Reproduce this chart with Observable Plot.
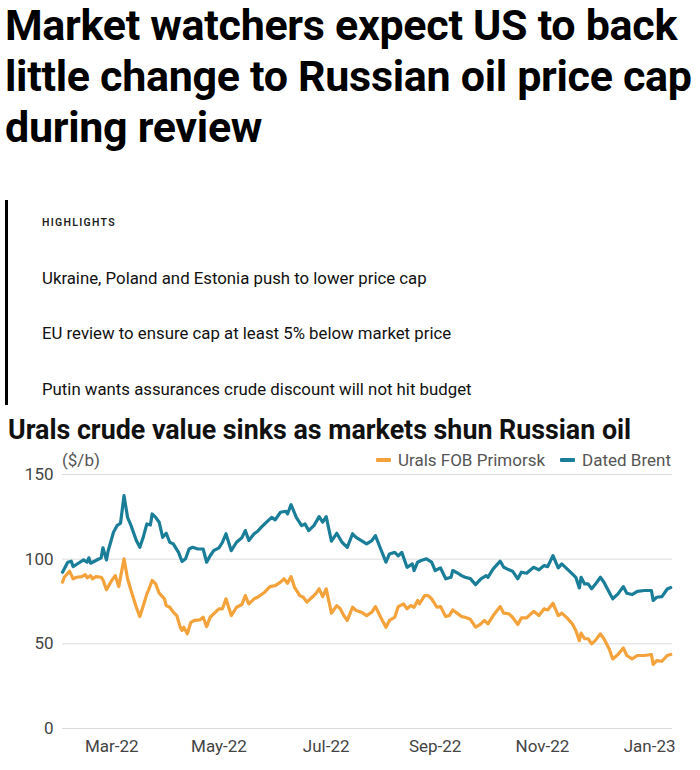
<!DOCTYPE html>
<html>
<head>
<meta charset="utf-8">
<script src="https://cdn.jsdelivr.net/npm/d3@7"></script>
<script src="https://cdn.jsdelivr.net/npm/@observablehq/plot@0.6"></script>
<style>
  html, body { margin: 0; padding: 0; background: #fff; }
  body { width: 700px; height: 770px; overflow: hidden; position: relative; font-family: Roboto, "Liberation Sans", sans-serif; }
  #title { position: absolute; left: 5px; top: 0; margin: 0; font-size: 43px; font-weight: 700; line-height: 51px; letter-spacing: -0.3px; color: #000; white-space: nowrap; }
  #bar { position: absolute; left: 5px; top: 200px; width: 3px; height: 205px; background: #000; }
  #hlhead { position: absolute; left: 42px; top: 216px; line-height: 14px; font-size: 10.5px; font-weight: 600; letter-spacing: 1.3px; color: #222; }
  .hl { position: absolute; left: 42px; font-size: 16.8px; line-height: 20px; color: #111; white-space: nowrap; }
  #ctitle { position: absolute; left: 8px; top: 414px; margin: 0; font-size: 26.8px; font-weight: 700; line-height: 32px; color: #111; white-space: nowrap; }
  #unit { position: absolute; left: 62px; top: 450px; font-size: 17px; line-height: 20px; color: #555; z-index: 2; }
  #legend { position: absolute; right: 29px; top: 450px; font-size: 17px; line-height: 20px; color: #555; display: flex; align-items: center; white-space: nowrap; z-index: 2; }
  .sw { display: inline-block; width: 15px; height: 4px; border-radius: 1px; margin-right: 7px; }
  .item { display: flex; align-items: center; margin-left: 15px; }
  #chart { position: absolute; left: 0; top: 445px; z-index: 1; }
</style>
</head>
<body>
<h1 id="title">Market watchers expect US to back<br>little change to Russian oil price cap<br>during review</h1>
<div id="bar"></div>
<div id="hlhead">HIGHLIGHTS</div>
<div class="hl" style="top:268px">Ukraine, Poland and Estonia push to lower price cap</div>
<div class="hl" style="top:323px">EU review to ensure cap at least 5% below market price</div>
<div class="hl" style="top:379px">Putin wants assurances crude discount will not hit budget</div>
<h2 id="ctitle">Urals crude value sinks as markets shun Russian oil</h2>
<div id="chart"></div>
<div id="unit">($/b)</div>
<div id="legend"></div>
<script>
const seriesNames = ["Urals FOB Primorsk", "Dated Brent"];
const seriesColors = ["#F4A23B", "#1A7E99"];

const yTicks = [0, 50, 100, 150];
const xTickDates = ["2022-03-01", "2022-05-01", "2022-07-01", "2022-09-01", "2022-11-01", "2023-01-01"];
const xTickLabels = ["Mar-22", "May-22", "Jul-22", "Sep-22", "Nov-22", "Jan-23"];

const brentDates = ["2022-02-01","2022-02-04","2022-02-06","2022-02-07","2022-02-10","2022-02-13","2022-02-15","2022-02-16","2022-02-17","2022-02-20","2022-02-23","2022-02-24","2022-02-26","2022-02-27","2022-03-02","2022-03-04","2022-03-06","2022-03-08","2022-03-10","2022-03-12","2022-03-15","2022-03-17","2022-03-19","2022-03-21","2022-03-23","2022-03-24","2022-03-26","2022-03-28","2022-03-30","2022-04-01","2022-04-03","2022-04-05","2022-04-08","2022-04-10","2022-04-12","2022-04-14","2022-04-16","2022-04-19","2022-04-22","2022-04-24","2022-04-26","2022-04-28","2022-05-01","2022-05-03","2022-05-05","2022-05-08","2022-05-11","2022-05-14","2022-05-16","2022-05-18","2022-05-21","2022-05-23","2022-05-25","2022-05-27","2022-05-31","2022-06-02","2022-06-05","2022-06-08","2022-06-09","2022-06-11","2022-06-14","2022-06-17","2022-06-19","2022-06-21","2022-06-24","2022-06-27","2022-06-29","2022-07-01","2022-07-04","2022-07-07","2022-07-10","2022-07-13","2022-07-16","2022-07-18","2022-07-21","2022-07-24","2022-07-27","2022-07-29","2022-08-01","2022-08-04","2022-08-06","2022-08-09","2022-08-11","2022-08-13","2022-08-16","2022-08-19","2022-08-20","2022-08-22","2022-08-24","2022-08-27","2022-08-30","2022-09-01","2022-09-04","2022-09-07","2022-09-10","2022-09-11","2022-09-14","2022-09-16","2022-09-18","2022-09-21","2022-09-24","2022-09-27","2022-09-30","2022-10-01","2022-10-04","2022-10-08","2022-10-10","2022-10-13","2022-10-15","2022-10-18","2022-10-20","2022-10-23","2022-10-27","2022-10-30","2022-11-02","2022-11-04","2022-11-07","2022-11-10","2022-11-12","2022-11-15","2022-11-18","2022-11-20","2022-11-22","2022-11-23","2022-11-25","2022-11-27","2022-11-29","2022-12-01","2022-12-04","2022-12-06","2022-12-09","2022-12-11","2022-12-14","2022-12-17","2022-12-19","2022-12-22","2022-12-25","2022-12-29","2023-01-02","2023-01-03","2023-01-05","2023-01-08","2023-01-11","2023-01-13"];
const brentValues = [92.3,98.2,98.8,95.6,97.6,99.6,98.2,100.8,97.6,99.2,100.8,106.7,99.6,105.0,115.9,119.8,121.2,137.5,124.7,119.8,111.0,107.0,113.3,120.8,120.2,126.7,124.7,121.8,112.9,115.3,110.0,109.0,104.0,98.6,100.2,106.0,107.0,106.0,106.0,98.2,102.0,105.0,106.7,110.0,115.0,105.0,110.0,112.6,116.9,111.0,115.0,116.5,118.8,120.8,124.7,123.2,127.7,128.3,126.7,132.2,124.7,119.8,120.8,116.9,119.8,125.1,121.8,125.1,110.6,115.3,110.0,107.0,115.0,112.9,111.0,109.0,111.0,113.9,106.0,98.2,103.1,104.0,102.0,104.0,95.2,97.2,93.3,98.2,99.2,100.2,98.2,93.3,94.9,88.4,89.3,93.3,91.7,90.3,89.3,88.5,85.0,88.4,90.3,89.3,94.3,98.8,95.2,93.7,92.9,88.4,92.3,91.7,95.2,93.7,96.2,95.6,102.1,94.9,97.2,94.3,91.3,89.3,83.0,89.3,85.4,85.4,82.5,85.0,89.3,86.4,80.5,76.6,79.5,83.8,79.9,79.1,81.0,81.5,81.5,75.6,77.5,77.9,82.4,83.2];

const uralsDates = ["2022-02-01","2022-02-02","2022-02-05","2022-02-07","2022-02-09","2022-02-12","2022-02-14","2022-02-15","2022-02-17","2022-02-18","2022-02-20","2022-02-23","2022-02-24","2022-02-26","2022-03-01","2022-03-03","2022-03-05","2022-03-08","2022-03-10","2022-03-12","2022-03-15","2022-03-17","2022-03-19","2022-03-21","2022-03-22","2022-03-24","2022-03-26","2022-03-28","2022-03-31","2022-04-01","2022-04-03","2022-04-05","2022-04-07","2022-04-09","2022-04-10","2022-04-11","2022-04-13","2022-04-15","2022-04-17","2022-04-20","2022-04-22","2022-04-24","2022-04-26","2022-04-29","2022-05-01","2022-05-03","2022-05-05","2022-05-08","2022-05-11","2022-05-14","2022-05-16","2022-05-18","2022-05-21","2022-05-23","2022-05-27","2022-05-30","2022-06-02","2022-06-05","2022-06-07","2022-06-09","2022-06-11","2022-06-13","2022-06-16","2022-06-18","2022-06-20","2022-06-23","2022-06-25","2022-06-27","2022-06-29","2022-07-01","2022-07-04","2022-07-07","2022-07-09","2022-07-11","2022-07-13","2022-07-16","2022-07-18","2022-07-21","2022-07-24","2022-07-27","2022-07-29","2022-08-01","2022-08-04","2022-08-06","2022-08-09","2022-08-11","2022-08-14","2022-08-16","2022-08-18","2022-08-20","2022-08-22","2022-08-23","2022-08-26","2022-08-28","2022-08-30","2022-09-02","2022-09-04","2022-09-07","2022-09-09","2022-09-11","2022-09-14","2022-09-16","2022-09-18","2022-09-21","2022-09-24","2022-09-27","2022-09-29","2022-10-01","2022-10-04","2022-10-08","2022-10-10","2022-10-13","2022-10-15","2022-10-18","2022-10-20","2022-10-23","2022-10-27","2022-10-30","2022-11-02","2022-11-04","2022-11-07","2022-11-10","2022-11-12","2022-11-15","2022-11-18","2022-11-20","2022-11-22","2022-11-23","2022-11-25","2022-11-27","2022-11-29","2022-12-01","2022-12-04","2022-12-06","2022-12-09","2022-12-11","2022-12-14","2022-12-17","2022-12-19","2022-12-22","2022-12-25","2022-12-29","2023-01-02","2023-01-03","2023-01-05","2023-01-08","2023-01-11","2023-01-13"];
const uralsValues = [86.4,89.3,92.9,88.4,89.3,89.7,90.9,89.0,90.3,88.4,89.7,89.3,87.8,81.9,87.4,90.3,83.8,100.2,88.4,81.5,71.6,66.1,72.6,79.5,81.9,87.4,85.4,79.9,76.6,72.6,71.6,68.7,66.7,59.8,57.9,59.8,55.9,62.7,63.8,64.1,65.7,60.2,65.7,68.7,70.7,70.7,76.6,66.7,71.6,73.2,78.5,73.6,76.6,77.5,80.5,83.8,84.4,86.4,88.4,85.8,89.7,83.4,78.5,77.5,74.6,77.5,79.5,82.5,77.9,82.5,68.1,72.6,70.7,66.7,63.8,71.6,69.7,68.7,66.7,68.7,72.0,65.7,59.8,63.8,65.7,72.0,73.6,70.7,72.6,71.6,75.6,73.6,78.5,78.5,76.6,71.6,72.0,66.1,66.7,70.0,67.7,66.1,65.7,64.5,59.8,61.8,63.8,61.8,66.7,72.0,68.1,67.7,65.7,61.4,65.3,65.3,69.2,66.7,70.7,70.0,74.0,66.7,68.1,65.3,61.8,57.9,51.9,56.3,53.0,53.0,50.0,51.9,55.9,53.0,47.0,41.1,43.7,47.6,43.1,41.1,43.1,43.1,43.7,37.8,40.1,39.7,43.1,43.7];

const parse = d3.utcParse("%Y-%m-%d");
const urals = uralsDates.map((d, i) => ({date: parse(d), value: uralsValues[i], series: seriesNames[0]}));
const brent = brentDates.map((d, i) => ({date: parse(d), value: brentValues[i], series: seriesNames[1]}));
const tickDates = xTickDates.map(parse);
const tickLabelMap = new Map(xTickDates.map((d, i) => [+parse(d), xTickLabels[i]]));

// legend
const legend = document.getElementById("legend");
seriesNames.forEach((name, i) => {
  const item = document.createElement("span");
  item.className = "item";
  const sw = document.createElement("span");
  sw.className = "sw";
  sw.style.background = seriesColors[i];
  item.appendChild(sw);
  item.appendChild(document.createTextNode(name));
  legend.appendChild(item);
});

const chart = Plot.plot({
  width: 700,
  height: 320,
  marginLeft: 62,
  marginRight: 28,
  marginTop: 29,
  marginBottom: 37,
  style: {fontFamily: "Roboto, 'Liberation Sans', sans-serif", fontSize: "17px", color: "#444", background: "transparent"},
  x: {type: "utc", domain: [parse("2022-02-01"), parse("2023-01-14")], label: null},
  y: {domain: [0, 150], label: null},
  marks: [
    Plot.ruleY(yTicks, {stroke: "#dcdcdc", strokeWidth: 1}),
    Plot.axisY({ticks: yTicks, tickSize: 0, tickPadding: 9, label: null, tickFormat: d => String(d)}),
    Plot.axisX({ticks: tickDates, tickSize: 0, tickPadding: 11, label: null, tickFormat: d => tickLabelMap.get(+d)}),
    Plot.lineY(urals, {x: "date", y: "value", stroke: seriesColors[0], strokeWidth: 3.2, strokeLinejoin: "round", curve: "linear"}),
    Plot.lineY(brent, {x: "date", y: "value", stroke: seriesColors[1], strokeWidth: 3.2, strokeLinejoin: "round", curve: "linear"})
  ]
});
document.getElementById("chart").appendChild(chart);
</script>
</body>
</html>
